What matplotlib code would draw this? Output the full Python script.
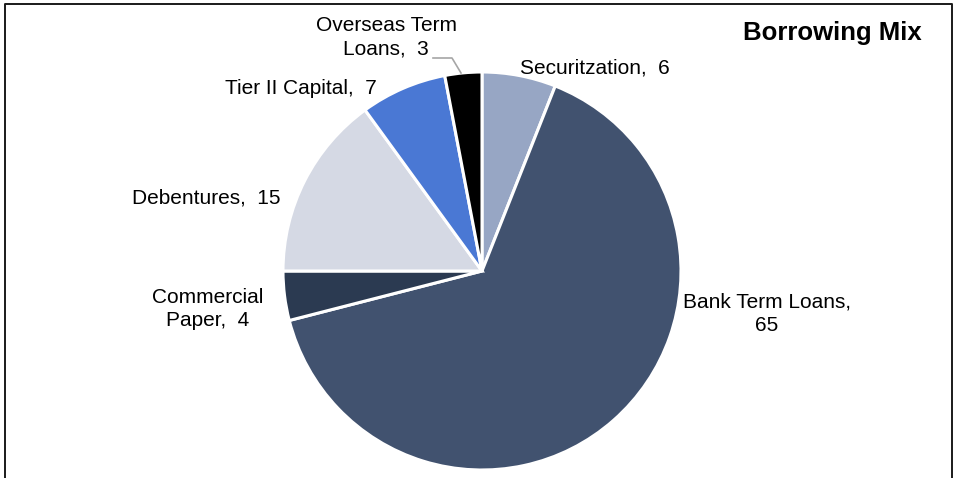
import matplotlib
matplotlib.use('Agg')
import matplotlib.pyplot as plt
from matplotlib.lines import Line2D

plt.rcParams['font.family'] = ['Liberation Sans', 'DejaVu Sans']

# data
labels = ['Securitzation', 'Bank Term Loans', 'Commercial\nPaper', 'Debentures',
          'Tier II Capital', 'Overseas Term\nLoans']
values = [6, 65, 4, 15, 7, 3]
colors = ['#97A6C4', '#41526F', '#2B3A51', '#D5D9E4', '#4A78D4', '#000000']

# label text as shown on the chart
label_texts = ['Securitzation,  6', 'Bank Term Loans,\n65', 'Commercial\nPaper,  4',
               'Debentures,  15', 'Tier II Capital,  7', 'Overseas Term\nLoans,  3']

W, H = 955, 478
cx, cy, R = 482, 271, 199

fig = plt.figure(figsize=(W / 100, H / 100), dpi=100)
ax = fig.add_axes([0, 0, 1, 1])

ax.pie(values, colors=colors, startangle=90, counterclock=False, radius=1,
       wedgeprops=dict(edgecolor='white', linewidth=2.2))

def px(x, y):
    # pixel position -> data coords
    return (x - cx) / R, (cy - y) / R

# label centres in pixels
label_pos = [(595, 68), (767, 314), (208, 309), (206, 198), (301, 88), (386, 37)]
for txt, (x, y) in zip(label_texts, label_pos):
    dx, dy = px(x, y)
    ax.text(dx, dy, txt, ha='center', va='center', fontsize=15,
            linespacing=1.3, color='#000000')

# leader line for the small slice
lx, ly = zip(*[px(433, 58), px(452, 58), px(461, 73)])
ax.plot(lx, ly, color='#A6A6A6', linewidth=1.2)

tx, ty = px(832, 33)
ax.text(tx, ty, 'Borrowing Mix', ha='center', va='center', fontsize=18.5,
        fontweight='bold')

ax.set_xlim(-cx / R, (W - cx) / R)
ax.set_ylim(-(H - cy) / R, cy / R)
ax.set_aspect('auto')
ax.axis('off')

# frame around the chart (no bottom edge)
fl, ft, fr = 4.5 / W, 1 - 3.5 / H, 951.5 / W
fig.add_artist(Line2D([fl, fl, fr, fr], [0, ft, ft, 0], transform=fig.transFigure,
                      color='#1a1a1a', linewidth=1.4))

fig.savefig('out.png', dpi=100)
